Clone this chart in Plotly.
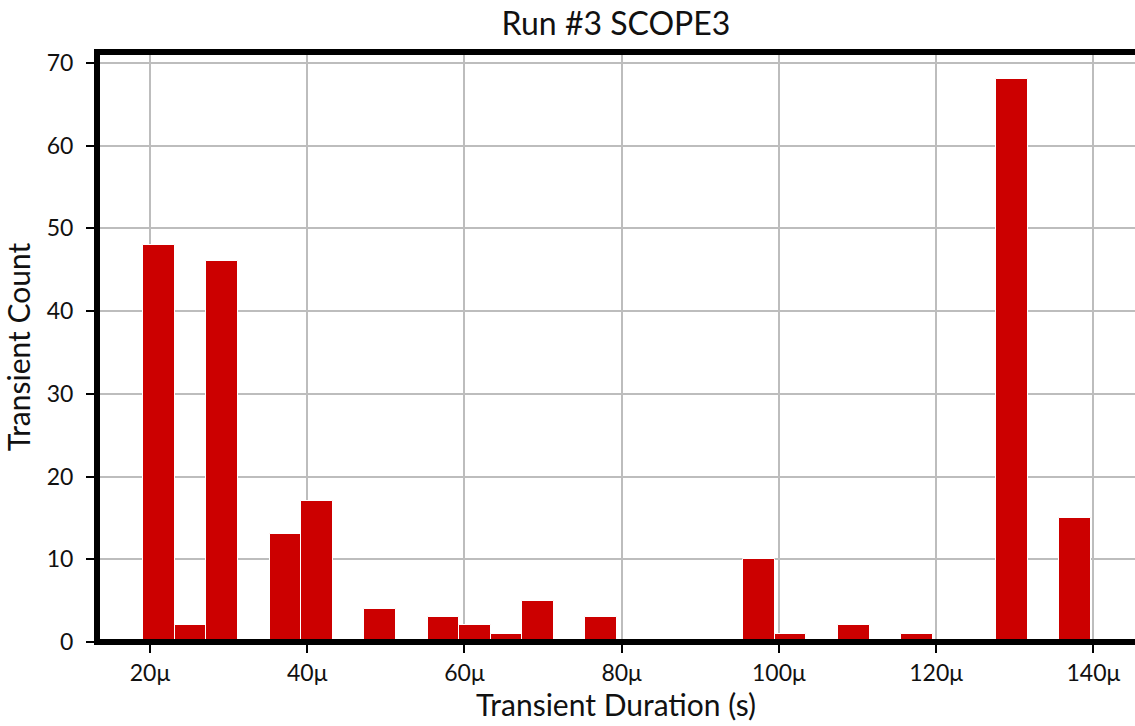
import numpy as np
import plotly.graph_objects as go

# Histogram of transient durations (30 equal-width bins)
counts = [48, 2, 46, 0, 13, 17, 0, 4, 0, 3, 2, 1, 5, 0, 3,
          0, 0, 0, 0, 10, 1, 0, 2, 0, 1, 0, 0, 68, 0, 15]
duration_min = 19.15e-6   # seconds, left edge of first bin
duration_max = 139.66e-6  # seconds, right edge of last bin

tick_values = [20e-6, 40e-6, 60e-6, 80e-6, 100e-6, 120e-6, 140e-6]
tick_labels = ["20μ", "40μ", "60μ", "80μ", "100μ", "120μ", "140μ"]

edges = np.linspace(duration_min, duration_max, len(counts) + 1)
centers = (edges[:-1] + edges[1:]) / 2
widths = np.diff(edges)

FONT = "Lato"
BAR_RED = "#CC0000"
GRID = "#BDBDBD"

fig = go.Figure(
    go.Bar(
        x=centers,
        y=counts,
        width=widths,
        marker=dict(color=BAR_RED, line=dict(color="white", width=1)),
        hoverinfo="x+y",
    )
)

axis_common = dict(
    showgrid=True,
    gridcolor=GRID,
    gridwidth=2,
    zeroline=False,
    showline=False,
    ticks="outside",
    ticklen=10,
    tickwidth=2,
    tickcolor="black",
    tickfont=dict(family=FONT, size=23, color="#111111"),
)

fig.update_layout(
    width=1135,
    height=726,
    margin=dict(l=97, r=0, t=52, b=84),
    paper_bgcolor="white",
    plot_bgcolor="white",
    showlegend=False,
    bargap=0,
    title=dict(
        text="Run #3 SCOPE3",
        font=dict(family=FONT, size=32, color="#111111"),
        x=0.5,
        xref="paper",
        xanchor="center",
        y=1 - 24 / 726,
        yref="container",
        yanchor="middle",
    ),
    xaxis=dict(
        range=[13.26e-6, 145.3e-6],
        tickvals=tick_values,
        ticktext=tick_labels,
        title=dict(
            text="Transient Duration (s)",
            font=dict(family=FONT, size=30, color="#111111"),
            standoff=10,
        ),
        **axis_common,
    ),
    yaxis=dict(
        range=[0, 71.3],
        dtick=10,
        ticklabelstandoff=8,
        title=dict(
            text="Transient Count",
            font=dict(family=FONT, size=30, color="#111111"),
            standoff=10,
        ),
        **axis_common,
    ),
    shapes=[
        # heavy frame on the bottom, left and top edges of the plot area
        dict(
            type="path",
            xref="paper",
            yref="paper",
            path="M 1.05,0 L 0,0 L 0,1 L 1.05,1",
            line=dict(color="black", width=6),
            layer="above",
        )
    ],
)

fig.write_html("out.html")
